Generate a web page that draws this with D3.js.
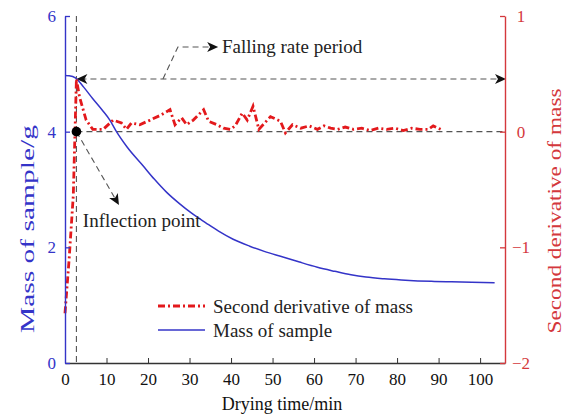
<!DOCTYPE html>
<html><head><meta charset="utf-8">
<script src="https://cdn.jsdelivr.net/npm/d3@7"></script>
<style>
body{margin:0;background:#fff;}
svg{display:block;font-family:"Liberation Serif","Times New Roman",serif;}
</style></head>
<body><svg id="c" width="570" height="419"></svg>
<script>
// ---- data ----
const xTicks = [0,10,20,30,40,50,60,70,80,90,100];
const leftTicks = [0,2,4,6];
const rightTicks = [-2,-1,0,1];
const massTime = [0,1,2.5,4.5,6.7,9,10.8,12.4,15,18.8,21.5,24.5,27.5,30.5,34,37,40.5,44.5,48,52.7,56.5,60.8,65,68.9,72.5,76.9,81,85,89,93.1,98,103.5];
const massValue= [4.97,4.965,4.93,4.77,4.57,4.37,4.2,4.0,3.73,3.41,3.18,2.95,2.76,2.59,2.42,2.28,2.14,2.02,1.93,1.83,1.745,1.655,1.585,1.525,1.485,1.455,1.435,1.42,1.41,1.403,1.395,1.387];
const d2Time = [0,1,2,2.75,3.5,5.1,6.7,9.2,11.6,13.6,14.8,16,18,20.5,22.9,25.3,26.5,28.1,29.3,30.9,33.4,34.6,36.6,38.2,39.8,41,42.7,43.9,45.3,46.7,49.5,51.9,53.1,54.8,56.8,58.8,60.8,62.4,64,65.7,67.5,69.5,71.5,73.5,75.5,77.5,79.5,81.5,83.5,85.5,87.5,88.7,90.5];
const d2Value= [-1.57,-1.1,-0.55,0.455,0.30,0.10,0.02,0.02,0.10,0.075,0.02,0.075,0.06,0.10,0.14,0.19,0.06,0.12,0.06,0.10,0.19,0.09,0.06,0.03,0.02,0.05,0.16,0.10,0.22,0.02,0.13,0.09,-0.01,0.06,0.03,0.05,0.02,0.05,0.03,0.02,0.04,0.02,0.03,0.01,0.03,0.02,0.03,0.01,0.03,0.02,0.02,0.05,0.02];
// annotation anchors (data units: time, right-axis value)
const inflect = {t:2.75, v:0};
const fallingV = 0.455;
const leader = {t0:23.6, t1:27.2, v1:0.732, tip:36.9, textT:37.8, textV:0.68};
const inflArrow = {t:13.0, v:-0.634, textT:4.3, textV:-0.824};

const blue="#3434c8", red="#e3191c", redAxis="#d4383c", gray="#555";
const svg=d3.select("#c");
const x=d3.scaleLinear().domain([0,106]).range([65,505]);
const yL=d3.scaleLinear().domain([0,6]).range([363,16]);
const yR=d3.scaleLinear().domain([-2,1]).range([363,16]);

// reference dashed lines
const g=svg.append("g").attr("stroke",gray).attr("stroke-width",1.1).attr("stroke-dasharray","6,4").attr("fill","none");
g.append("line").attr("x1",x(inflect.t)).attr("x2",x(inflect.t)).attr("y1",yR(1)).attr("y2",yR(-2));
g.append("line").attr("x1",x(inflect.t)).attr("x2",x(106)).attr("y1",yR(0)).attr("y2",yR(0));
g.append("line").attr("x1",x(inflect.t)+4).attr("x2",x(106)-4).attr("y1",yR(fallingV)).attr("y2",yR(fallingV));
g.append("path").attr("d",`M${x(leader.t0)},${yR(fallingV)}L${x(leader.t1)},${yR(leader.v1)}L${x(leader.tip)-6},${yR(leader.v1)}`);
g.append("line").attr("x1",x(inflect.t)).attr("y1",yR(0)).attr("x2",x(inflArrow.t)-3).attr("y2",yR(inflArrow.v)-5);

function arrow(px,py,ang){
  svg.append("path").attr("d","M0,0L-11,-5L-8,0L-11,5Z").attr("fill","#111")
    .attr("transform",`translate(${px},${py}) rotate(${ang})`);
}
arrow(x(inflect.t),yR(fallingV),180);
arrow(x(106)+1,yR(fallingV),0);
arrow(x(leader.tip),yR(leader.v1),0);
const ang=Math.atan2(yR(inflArrow.v)-yR(0),x(inflArrow.t)-x(inflect.t))*180/Math.PI;
arrow(x(inflArrow.t),yR(inflArrow.v),ang);

// data lines
const massData=massTime.map((t,i)=>[t,massValue[i]]);
const d2Data=d2Time.map((t,i)=>[t,d2Value[i]]);
svg.append("path").datum(massData).attr("fill","none").attr("stroke",blue).attr("stroke-width",1.5)
  .attr("d",d3.line().x(d=>x(d[0])).y(d=>yL(d[1])).curve(d3.curveMonotoneX));
svg.append("path").datum(d2Data).attr("fill","none").attr("stroke",red).attr("stroke-width",2.8)
  .attr("stroke-dasharray","7,3,2,3")
  .attr("d",d3.line().x(d=>x(d[0])).y(d=>yR(d[1])));

svg.append("circle").attr("cx",x(inflect.t)).attr("cy",yR(inflect.v)).attr("r",4.8).attr("fill","#000");

// axes
const ax=svg.append("g").attr("transform","translate(0,363)")
  .call(d3.axisBottom(x).tickValues(xTicks).tickSizeInner(-5).tickSizeOuter(0).tickPadding(10).tickFormat(d3.format("d")));
ax.select(".domain").attr("stroke","#333").attr("stroke-width",1.3);
ax.selectAll(".tick line").attr("stroke","#333");
ax.selectAll("text").attr("font-size",17).attr("fill","#111").attr("font-family","Liberation Serif");

const al=svg.append("g").attr("transform","translate(65,0)")
  .call(d3.axisLeft(yL).tickValues(leftTicks).tickSizeInner(-5).tickSizeOuter(0).tickPadding(9).tickFormat(d3.format("d")));
al.select(".domain").attr("stroke",blue).attr("stroke-width",1.4);
al.selectAll(".tick line").attr("stroke",blue).attr("stroke-width",1.3);
al.selectAll("text").attr("font-size",17).attr("fill",blue).attr("font-family","Liberation Serif");

const ar=svg.append("g").attr("transform","translate(505,0)")
  .call(d3.axisRight(yR).tickValues(rightTicks).tickSizeInner(-5).tickSizeOuter(0).tickPadding(16)
    .tickFormat(d=>d<0?"\u2212"+Math.abs(d):String(d)));
ar.select(".domain").attr("stroke",redAxis).attr("stroke-width",1.4);
ar.selectAll(".tick line").attr("stroke",redAxis).attr("stroke-width",1.3);
ar.selectAll("text").attr("font-size",17).attr("fill",redAxis).attr("text-anchor","middle").attr("font-family","Liberation Serif");

// axis titles
svg.append("text").attr("x",282).attr("y",410).attr("text-anchor","middle").attr("font-size",18).attr("fill","#111").text("Drying time/min");
svg.append("text").attr("transform","translate(34,229) rotate(-90)").attr("text-anchor","middle")
  .attr("font-size",18).attr("fill",blue).attr("textLength",208).attr("lengthAdjust","spacingAndGlyphs").text("Mass of sample/g");
svg.append("text").attr("transform","translate(561,211) rotate(-90)").attr("text-anchor","middle")
  .attr("font-size",18).attr("fill",redAxis).attr("textLength",245).attr("lengthAdjust","spacingAndGlyphs").text("Second derivative of mass");

// annotation texts
svg.append("text").attr("x",x(leader.textT)).attr("y",yR(leader.textV)).attr("font-size",19).attr("fill","#222").text("Falling rate period");
svg.append("text").attr("x",x(inflArrow.textT)).attr("y",yR(inflArrow.textV)).attr("font-size",19).attr("fill","#222").text("Inflection point");

// legend
const lg=svg.append("g");
lg.append("line").attr("x1",158).attr("x2",205).attr("y1",306).attr("y2",306).attr("stroke",red).attr("stroke-width",2.8).attr("stroke-dasharray","7,3,2,3");
lg.append("line").attr("x1",158).attr("x2",205).attr("y1",330).attr("y2",330).attr("stroke",blue).attr("stroke-width",1.5);
lg.append("text").attr("x",213).attr("y",313).attr("font-size",19).attr("fill","#222").text("Second derivative of mass");
lg.append("text").attr("x",213).attr("y",337).attr("font-size",19).attr("fill","#222").text("Mass of sample");
</script></body></html>
